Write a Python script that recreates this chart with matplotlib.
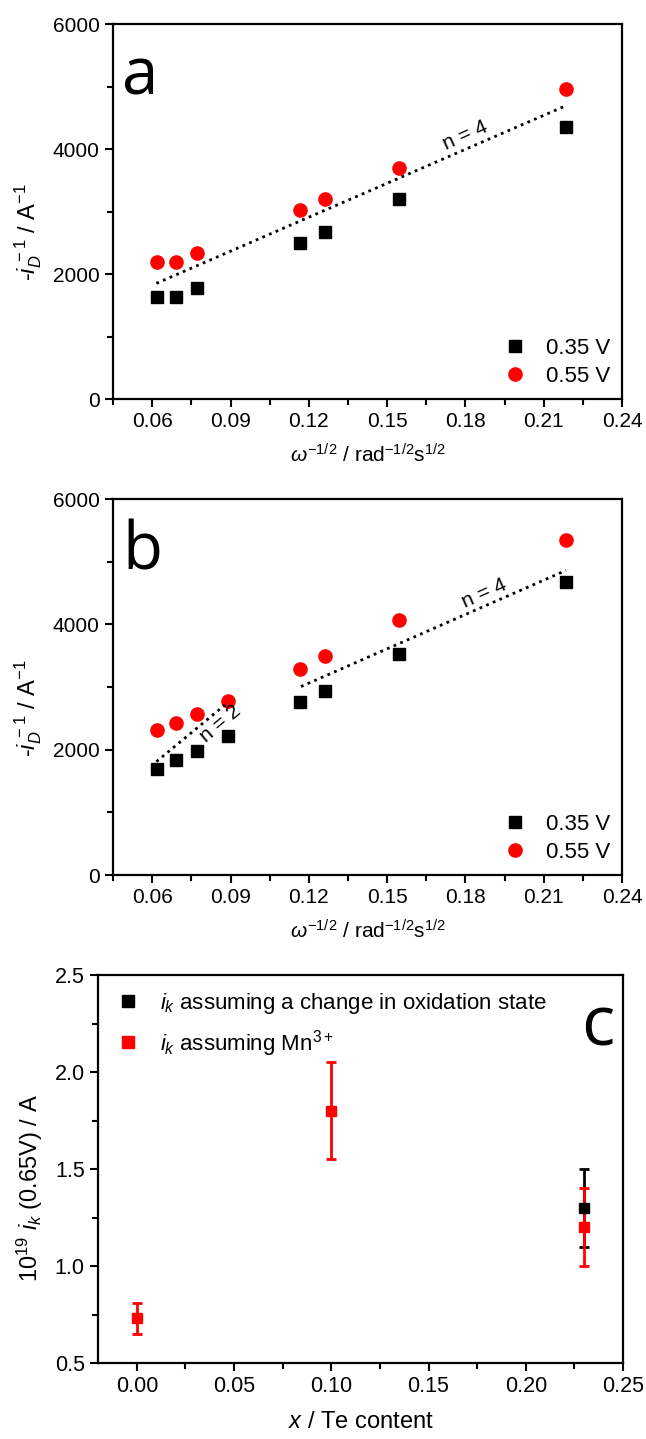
import matplotlib
matplotlib.use("Agg")
import matplotlib.pyplot as plt
from matplotlib.ticker import MultipleLocator
import numpy as np

plt.rcParams['font.family'] = ['Liberation Sans', 'DejaVu Sans']
plt.rcParams['mathtext.fontset'] = 'custom'
plt.rcParams['mathtext.rm'] = 'Liberation Sans'
plt.rcParams['mathtext.it'] = 'Liberation Sans:italic'
plt.rcParams['mathtext.bf'] = 'Liberation Sans:bold'

# omega^-1/2 values (rad^-1/2 s^1/2)
x_a = [0.0618, 0.0691, 0.0773, 0.1168, 0.1262, 0.1545, 0.2185]
x_b = [0.0618, 0.0691, 0.0773, 0.0892, 0.1168, 0.1262, 0.1545, 0.2185]

# panel a
a_035 = [1627, 1627, 1771, 2491, 2672, 3195, 4352]
a_055 = [2197, 2197, 2331, 3024, 3195, 3691, 4955]
a_fit_x = [0.0616, 0.2188]
a_fit_y = [1851, 4699]

# panel b
b_035 = [1693, 1837, 1986, 2225, 2758, 2939, 3524, 4674]
b_055 = [2316, 2433, 2566, 2784, 3290, 3503, 4067, 5340]
b_fit2_x = [0.0616, 0.0892]
b_fit2_y = [1810, 2760]
b_fit4_x = [0.1170, 0.2185]
b_fit4_y = [3008, 4861]

# panel c
te_black = [0.23]
ik_black = [1.30]
err_black = [0.20]
te_red = [0.0, 0.10, 0.23]
ik_red = [0.73, 1.80, 1.20]
err_red = [0.08, 0.25, 0.20]

fig = plt.figure(figsize=(6.46, 14.39), dpi=100)

def style(ax, ls=15):
    for s in ax.spines.values():
        s.set_linewidth(1.6)
    ax.tick_params(which='both', direction='out', top=False, right=False,
                   width=1.5, labelsize=ls)
    ax.tick_params(which='major', length=6)
    ax.tick_params(which='minor', length=4)

xlab = r'$\omega^{-1/2}$ / rad$^{\mathrm{-1/2}}$s$^{\mathrm{1/2}}$'
ylab = r'-$i_D^{\,-1}$ / A$^{\mathrm{-1}}$'

def rd_panel(ax, xs, s035, s055, letter):
    ax.plot(xs, s035, 's', color='black', ms=8, ls='none', label='0.35 V')
    ax.plot(xs, s055, 'o', color='red', ms=9.5, ls='none', label='0.55 V')
    ax.set_xlim(0.045, 0.24)
    ax.set_ylim(0, 6000)
    ax.xaxis.set_minor_locator(MultipleLocator(0.015))
    ax.yaxis.set_major_locator(MultipleLocator(2000))
    ax.yaxis.set_minor_locator(MultipleLocator(1000))
    ticks = np.arange(0.06, 0.2401, 0.03)
    ax.set_xticks(ticks)
    ax.set_xticklabels(['%.2f' % v for v in ticks])
    ax.set_xlabel(xlab, fontsize=15, labelpad=9)
    ax.set_ylabel(ylab, fontsize=17)
    ax.yaxis.set_label_coords(-0.135, 0.445)
    ax.text(0.0485, 5150, letter, fontsize=47, family='Open Sans', va='center', ha='left')
    ax.legend(loc='lower right', frameon=False, fontsize=16, handletextpad=0.8,
              borderaxespad=0.15, labelspacing=0.3, handlelength=1.2)
    style(ax)

# ---- a ----
ax1 = fig.add_axes([0.175, 0.7227, 0.788, 0.2606])
rd_panel(ax1, x_a, a_035, a_055, 'a')
ax1.plot(a_fit_x, a_fit_y, color='black', lw=2, ls=(0, (1, 1.6)))
ax1.text(0.180, 4210, 'n = 4', rotation=24, fontsize=15, ha='center', va='center')

# ---- b ----
ax2 = fig.add_axes([0.175, 0.3919, 0.788, 0.2613])
rd_panel(ax2, x_b, b_035, b_055, 'b')
ax2.plot(b_fit2_x, b_fit2_y, color='black', lw=2, ls=(0, (1, 1.6)))
ax2.plot(b_fit4_x, b_fit4_y, color='black', lw=2, ls=(0, (1, 1.6)))
ax2.text(0.0860, 2420, 'n = 2', rotation=40, fontsize=15, ha='center', va='center')
ax2.text(0.187, 4500, 'n = 4', rotation=24, fontsize=15, ha='center', va='center')

# ---- c ----
ax3 = fig.add_axes([0.1517, 0.0528, 0.8127, 0.2696])
ax3.errorbar(te_black, ik_black, yerr=err_black, fmt='none', ecolor='black',
             elinewidth=2, capsize=3.5, capthick=2)
ax3.errorbar(te_red, ik_red, yerr=err_red, fmt='none', ecolor='red',
             elinewidth=2, capsize=3.5, capthick=2)
ax3.plot(te_black, ik_black, 's', color='black', ms=7,
         label=r'$i_k$ assuming a change in oxidation state')
ax3.plot(te_red, ik_red, 's', color='red', ms=7,
         label=r'$i_k$ assuming Mn$^{\mathrm{3+}}$')
ax3.set_xlim(-0.02, 0.25)
ax3.set_ylim(0.5, 2.5)
ax3.xaxis.set_major_locator(MultipleLocator(0.05))
ax3.xaxis.set_minor_locator(MultipleLocator(0.025))
ax3.yaxis.set_major_locator(MultipleLocator(0.5))
ax3.yaxis.set_minor_locator(MultipleLocator(0.25))
ax3.xaxis.set_major_formatter(plt.FormatStrFormatter('%.2f'))
ax3.yaxis.set_major_formatter(plt.FormatStrFormatter('%.1f'))
ax3.set_xlabel(r'$x$ / Te content', fontsize=17, labelpad=10)
ax3.set_ylabel(r'10$^{\mathrm{19}}$ $i_k$ (0.65V) / A', fontsize=17)
ax3.yaxis.set_label_coords(-0.1, 0.45)
ax3.text(0.2372, 2.23, 'c', fontsize=50, family='Open Sans', va='center', ha='center')
ax3.legend(loc='upper left', frameon=False, fontsize=16, handletextpad=0.8,
           borderaxespad=0.3, labelspacing=0.55, handlelength=1.3, markerscale=1.3)
style(ax3, 15.5)

fig.savefig('out.png', dpi=100)
